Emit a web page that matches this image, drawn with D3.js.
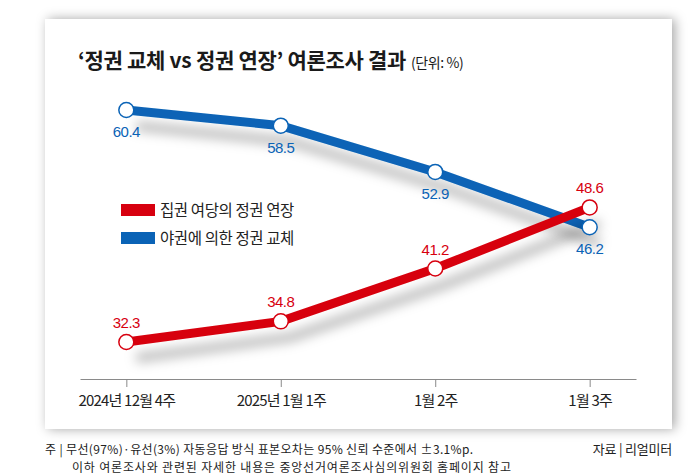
<!DOCTYPE html>
<meta charset="utf-8">
<script src="https://d3js.org/d3.v7.min.js"></script>
<style>
  body { margin: 0; background: #fff; }
  text { font-family: "Liberation Sans", Arial, "Noto Sans CJK KR", sans-serif; }
  .kr { font-family: "Noto Sans CJK KR", sans-serif; }
</style>
<div id="chart"></div>
<script>
// data
var weeks = ["2024년 12월 4주", "2025년 1월 1주", "1월 2주", "1월 3주"];
var extension = [32.3, 34.8, 41.2, 48.6];   // 집권 여당의 정권 연장
var replacement = [60.4, 58.5, 52.9, 46.2]; // 야권에 의한 정권 교체
var seriesNames = ["집권 여당의 정권 연장", "야권에 의한 정권 교체"];
var colors = ["#d7000f", "#0a63b6"];

var W = 700, H = 476;

var svg = d3.select("#chart").append("svg")
    .attr("width", W)
    .attr("height", H);

var defs = svg.append("defs");
var cardShadow = defs.append("filter").attr("id", "cardShadow")
    .attr("x", "-10%").attr("y", "-10%").attr("width", "120%").attr("height", "120%");
cardShadow.append("feDropShadow")
    .attr("dx", 3).attr("dy", 0).attr("stdDeviation", 6)
    .attr("flood-color", "#000").attr("flood-opacity", 0.35);

var lineShadow = defs.append("filter").attr("id", "lineShadow")
    .attr("x", "-20%").attr("y", "-30%").attr("width", "140%").attr("height", "160%");
lineShadow.append("feDropShadow")
    .attr("dx", 10).attr("dy", 16).attr("stdDeviation", 6)
    .attr("flood-color", "#000").attr("flood-opacity", 0.28);

// card
svg.append("rect")
    .attr("x", 45).attr("y", 19)
    .attr("width", 627).attr("height", 410)
    .attr("fill", "#fff")
    .attr("filter", "url(#cardShadow)");

// title
var title = svg.append("text")
    .attr("class", "kr")
    .attr("x", 78).attr("y", 68)
    .attr("font-size", 21)
    .attr("font-weight", "bold")
    .attr("letter-spacing", -0.3)
    .attr("fill", "#1a1a1a");
title.append("tspan").text("‘정권 교체 vs 정권 연장’ 여론조사 결과");
title.append("tspan")
    .attr("font-size", 14)
    .attr("font-weight", "normal")
    .attr("dx", 5)
    .attr("letter-spacing", -0.4)
    .text("(단위: %)");

// scales
var x = d3.scalePoint()
    .domain(weeks)
    .range([80, 636])
    .padding(0.3);

var y = d3.scaleLinear()
    .domain([30, 65])
    .range([361, 72]);

// axis
var xAxis = svg.append("g")
    .attr("transform", "translate(0,379)")
    .call(d3.axisBottom(x).tickSizeInner(8).tickSizeOuter(0).tickPadding(8));
xAxis.select(".domain").attr("stroke", "#8a8a8a");
xAxis.selectAll(".tick line").attr("stroke", "#8a8a8a");
xAxis.selectAll(".tick text")
    .attr("class", "kr")
    .attr("font-size", 15)
    .attr("letter-spacing", -0.8)
    .attr("fill", "#222");

var line = d3.line()
    .x(function(d, i) { return x(weeks[i]); })
    .y(function(d) { return y(d); });

// blue first, red on top
var series = [
  { name: seriesNames[1], values: replacement, color: colors[1], below: true },
  { name: seriesNames[0], values: extension, color: colors[0], below: false }
];

series.forEach(function(s) {
  svg.append("path")
    .datum(s.values)
    .attr("d", line)
    .attr("fill", "none")
    .attr("stroke", s.color)
    .attr("stroke-width", 9)
    .attr("filter", "url(#lineShadow)");
});

series.forEach(function(s) {
  var g = svg.append("g");
  g.selectAll("circle")
    .data(s.values)
    .enter().append("circle")
      .attr("cx", function(d, i) { return x(weeks[i]); })
      .attr("cy", function(d) { return y(d); })
      .attr("r", 7.5)
      .attr("fill", "#fff")
      .attr("stroke", s.color)
      .attr("stroke-width", 1.5);
  g.selectAll("text")
    .data(s.values)
    .enter().append("text")
      .attr("x", function(d, i) { return x(weeks[i]); })
      .attr("y", function(d) { return y(d) + (s.below ? 27 : -14); })
      .attr("text-anchor", "middle")
      .attr("font-size", 15)
      .attr("letter-spacing", -0.5)
      .attr("fill", s.color)
      .text(function(d) { return d.toFixed(1); });
});

// legend
var legend = svg.append("g").attr("transform", "translate(121,204)");
[0, 1].forEach(function(i) {
  legend.append("rect")
    .attr("x", 0).attr("y", i * 28)
    .attr("width", 34).attr("height", 12)
    .attr("fill", colors[i]);
  legend.append("text")
    .attr("class", "kr")
    .attr("x", 39).attr("y", i * 28 + 12)
    .attr("font-size", 15.5)
    .attr("letter-spacing", -0.4)
    .attr("fill", "#222")
    .text(seriesNames[i]);
});

// footnotes
var notes = [
  "주 | 무선(97%)·유선(3%) 자동응답 방식 표본오차는 95% 신뢰 수준에서 ±3.1%p.",
  "이하 여론조사와 관련된 자세한 내용은 중앙선거여론조사심의위원회 홈페이지 참고"
];
svg.append("text")
  .attr("class", "kr")
  .attr("x", 45).attr("y", 454)
  .attr("font-size", 12).attr("fill", "#222")
  .attr("textLength", 428).attr("lengthAdjust", "spacing")
  .text(notes[0]);
svg.append("text")
  .attr("class", "kr")
  .attr("x", 72).attr("y", 471.5)
  .attr("font-size", 12).attr("fill", "#222")
  .attr("textLength", 439).attr("lengthAdjust", "spacing")
  .text(notes[1]);
svg.append("text")
  .attr("class", "kr")
  .attr("x", 672).attr("y", 454)
  .attr("text-anchor", "end")
  .attr("font-size", 13).attr("letter-spacing", -0.2).attr("fill", "#222")
  .text("자료 | 리얼미터");
</script>
